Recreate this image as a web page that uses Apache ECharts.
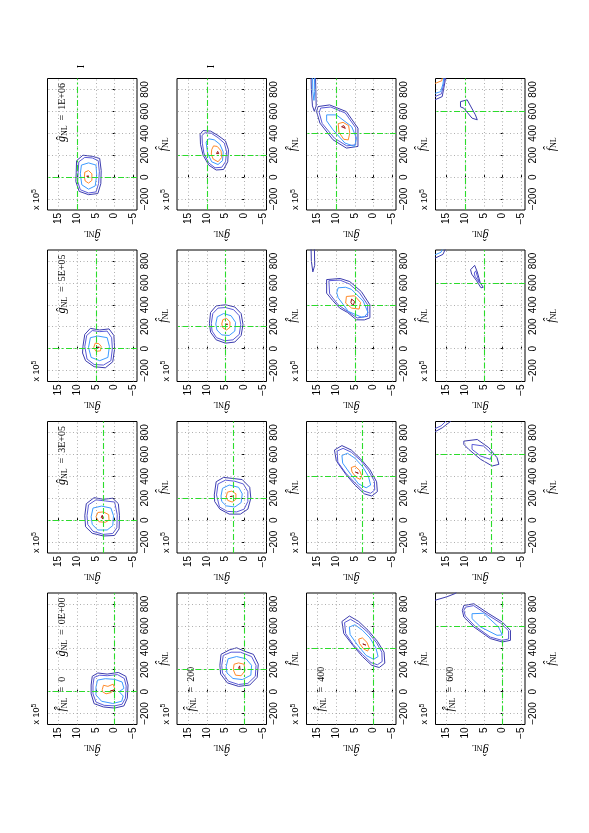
<!DOCTYPE html>
<html><head><meta charset="utf-8">
<script src="https://cdn.jsdelivr.net/npm/echarts@6/dist/echarts.min.js"></script>
<style>html,body{margin:0;padding:0;background:#fff}#c{width:589px;height:833px}</style>
</head><body><div id="c"></div>
<script>
// ---- data ----
const fTrue = [0, 200, 400, 600];          // true f_NL per column
const gTrue = [0, 3, 5, 10];               // true g_NL (x 10^5)
const gText = ['0E+00', '3E+05', '5E+05', '1E+06'];
const gTicks = [-5, 0, 5, 10, 15];
const fTicks = [-200, 0, 200, 400, 600, 800];

// contour polylines: [level, [[g(x1e5), f], ...], open?]
const F0_G0 = [
  [0, [[6.3,60],[6.0,140],[4.5,170],[2,160],[-1,175],[-3,140],[-3.6,60],[-3.4,-60],[-2.5,-130],[0,-150],[3,-140],[5.5,-110],[6.3,-20]]],
  [1, [[5.8,60],[5.5,130],[4,150],[2,145],[-0.8,155],[-2.6,120],[-3.1,50],[-2.9,-60],[-2,-115],[0,-130],[2.8,-125],[5,-95],[5.8,-20]]],
  [2, [[5,40],[4.6,105],[2.5,118],[0,112],[-2,88],[-2.5,30],[-1.2,0],[-2.3,-40],[-1.9,-88],[0.5,-108],[3.5,-88],[5,-30]]],
  [3, [[3.3,20],[3,58],[1.8,48],[0.4,68],[0,30],[0.9,-8],[0.5,-25],[2.3,-20],[3.3,0]]],
  [4, [[1.1,8],[0.8,22],[0.3,12],[0.6,-4]]]
];
const F0_G3 = [
  [0, [[8,40],[7.6,150],[5.5,205],[3,190],[0.5,200],[-1,150],[-1.3,40],[-1.2,-80],[0,-140],[3,-145],[6,-120],[7.8,-60]]],
  [1, [[7.4,40],[7,140],[5,185],[2.5,175],[0,165],[-0.7,50],[-0.6,-70],[0.5,-122],[3,-130],[5.8,-102],[7.2,-40]]],
  [2, [[6.3,30],[5.8,110],[3.5,128],[1,110],[0.3,40],[0.5,-50],[2,-90],[4.5,-90],[6,-40]]],
  [3, [[5,30],[4.5,70],[3,75],[1.6,50],[1.5,0],[2.5,-20],[4.2,-15]]],
  [4, [[3.6,25],[3.3,45],[2.8,30],[3.1,10]]]
];
const F0_G5 = [
  [0, [[8.5,20],[8,130],[6.5,185],[4,170],[1.5,180],[0.2,120],[0,0],[0.5,-120],[2.5,-175],[5.5,-165],[7.8,-110],[8.6,-40]]],
  [1, [[8,20],[7.5,120],[6,165],[4,155],[2,160],[0.8,100],[0.6,0],[1,-110],[3,-150],[5.5,-145],[7.4,-95]]],
  [2, [[7,10],[6.5,100],[4.5,115],[2,100],[1.4,20],[1.8,-80],[4,-110],[6.3,-80]]],
  [3, [[5.6,10],[5.2,50],[4.2,45],[3.6,20],[3.8,-20],[5,-25]]],
  [4, [[4.7,12],[4.4,25],[4.1,12],[4.4,2]]]
];
const F0_G10 = [
  [0, [[10.3,40],[10.2,150],[8.5,200],[6,190],[4,170],[3.6,60],[3.7,-60],[4.5,-150],[7,-160],[9.5,-130],[10.4,-40]]],
  [1, [[9.8,40],[9.6,140],[8,180],[6,175],[4.4,150],[4.1,50],[4.3,-60],[5,-135],[7,-145],[9.2,-115],[9.9,-40]]],
  [2, [[9.2,30],[8.9,110],[7,130],[5,110],[4.8,20],[5.2,-80],[7,-110],[8.8,-70]]],
  [3, [[8.1,0],[8,45],[7,60],[6.1,30],[6.1,-30],[7,-55],[7.9,-35]]],
  [4, [[7.5,8],[7.2,25],[6.9,8],[7.2,-10]]]
];
const F200_G0 = [
  [0, [[6.5,240],[6.2,340],[4,380],[2,400],[0,370],[-2.5,340],[-3.8,250],[-3.5,130],[-1.5,60],[1.5,48],[4.5,80],[6.3,160]]],
  [1, [[6,240],[5.6,330],[3.5,360],[1,360],[-2,320],[-3.2,240],[-3,140],[-1,75],[1.5,65],[4.2,95],[5.8,170]]],
  [2, [[4.8,230],[4.3,300],[2,320],[-0.5,300],[-2,240],[-1.8,150],[0.5,110],[3,120],[4.6,170]]],
  [3, [[2.9,200],[2.7,250],[1.5,262],[0,250],[-0.2,190],[0.8,145],[2.3,150]]],
  [4, [[1.5,215],[1.2,235],[0.7,218],[1.1,200]]]
];
const F200_G3 = [
  [0, [[8,230],[7.5,350],[5.5,390],[3,380],[0.5,370],[-1.5,300],[-1.8,200],[-1,100],[1,55],[4,55],[6.5,100],[7.9,170]]],
  [1, [[7.4,230],[7,330],[5,365],[2.5,355],[0.2,330],[-1,260],[-1,170],[0,100],[2,75],[4.5,80],[6.6,120]]],
  [2, [[6.2,220],[5.8,290],[4,320],[1.5,300],[0.5,240],[0.8,160],[2.5,120],[4.8,130],[6,170]]],
  [3, [[4.8,210],[4.5,255],[3.3,265],[2.2,240],[2.2,190],[3.2,165],[4.4,180]]],
  [4, [[3.8,215],[3.5,232],[3.1,218],[3.4,200]]]
];
const F200_G5 = [
  [0, [[9.3,230],[9,330],[7.5,390],[5,400],[2.5,380],[0.8,320],[0.3,220],[0.8,120],[2.5,60],[5,50],[7.5,80],[9,150]]],
  [1, [[8.8,230],[8.4,320],[7,370],[5,375],[2.8,355],[1.3,300],[0.9,220],[1.3,130],[3,80],[5.2,72],[7.4,100],[8.6,160]]],
  [2, [[7.6,225],[7.2,290],[5.5,320],[3.5,300],[2.3,240],[2.5,160],[4,120],[6,125],[7.3,170]]],
  [3, [[6,225],[5.7,265],[4.7,275],[3.8,245],[3.8,195],[4.7,170],[5.7,190]]],
  [4, [[5.1,222],[4.8,238],[4.4,222],[4.7,205]]]
];
const F200_G10 = [
  [0, [[11.8,390],[11,425],[9,420],[7,380],[5,330],[4.2,250],[4.4,140],[5.5,70],[7.5,65],[9.5,110],[11,200],[11.7,300]]],
  [1, [[11.3,380],[10.5,405],[8.8,400],[7,360],[5.3,310],[4.7,230],[5,140],[6,90],[7.8,85],[9.5,130],[10.8,220],[11.2,310]]],
  [2, [[10.2,320],[9.5,350],[8,340],[6.5,300],[5.6,230],[5.8,150],[7,115],[8.7,140],[9.8,220]]],
  [3, [[8.7,250],[8.2,285],[7.2,280],[6.2,240],[6,180],[7,140],[8.3,165],[8.8,210]]],
  [4, [[7.4,215],[7.1,235],[6.8,215],[7.1,198]]]
];
const F400_G0 = [
  [0, [[8.5,640],[6.5,690],[4,640],[1.5,560],[-1,460],[-2.8,360],[-3,260],[-1.5,220],[0.5,240],[3,320],[5.5,420],[8,530]]],
  [1, [[7.8,630],[6.2,660],[4,615],[1.5,540],[-0.7,450],[-2.2,360],[-2.3,275],[-1,245],[0.7,265],[3,340],[5.5,430],[7.5,530]]],
  [2, [[6.5,590],[5,610],[3,560],[1,490],[-0.6,400],[-1.2,320],[0,295],[2,330],[4.2,420],[6.3,520]]],
  [3, [[4,480],[3,490],[1.8,450],[1.2,400],[1.6,370],[2.7,390],[3.8,440]]],
  [4, [[2.9,435],[2.5,445],[2.1,425],[2.5,410]]]
];
const F400_G3 = [
  [0, [[10.5,640],[8.5,680],[6,640],[3.5,560],[1,460],[-0.8,350],[-1,260],[0.5,220],[2.5,240],[5,320],[7.5,420],[10,540]]],
  [1, [[9.8,630],[8.2,655],[6,620],[3.5,545],[1.4,455],[-0.2,355],[-0.3,275],[0.8,245],[2.6,265],[5,340],[7.5,430],[9.6,530]]],
  [2, [[8.5,590],[7,610],[5,565],[3,490],[1.4,400],[0.8,320],[2,295],[4,330],[6.2,420],[8.3,520]]],
  [3, [[6,480],[5,492],[3.8,455],[3.2,405],[3.6,372],[4.7,390],[5.8,440]]],
  [4, [[4.9,438],[4.5,448],[4.1,428],[4.5,412]]]
];
const F400_G5 = [
  [0, [[12.6,630],[12.1,648],[9,640],[6.4,612],[3.3,521],[1.0,400],[1.0,281],[2.5,262],[4.6,263],[7,330],[9.1,370],[11,440],[12.6,506]]],
  [1, [[12,620],[9,625],[6.5,590],[3.8,510],[1.6,400],[1.6,295],[4.4,280],[7,340],[9.5,400],[11.8,500]]],
  [2, [[9.5,555],[7.5,560],[5.9,540],[2.8,434],[1.5,329],[2.5,290],[3.3,288],[6.8,340],[9.5,464],[9.9,510]]],
  [3, [[7.3,476],[5.1,482],[3.5,421],[3.9,361],[5.9,370],[7.5,415]]],
  [4, [[5.9,452],[5.1,430],[5.5,391],[6.1,421]]],
  [0, [[16.8,950],[16.7,800],[16.3,700],[15.9,690],[15.8,760],[15.9,950]], true]
];
const F400_G10 = [
  [0, [[14.9,644],[11.8,659],[7.3,598],[4.2,447],[4.2,280],[7.3,265],[10.9,341],[14.4,493],[15.3,598]]],
  [1, [[14.2,630],[11.5,640],[7.6,585],[4.8,450],[4.8,295],[7.2,285],[10.5,355],[13.8,490],[14.6,590]]],
  [2, [[12.6,568],[10,568],[5.9,462],[4.6,356],[5.1,280],[7.7,311],[10.9,432],[12.6,514]]],
  [3, [[9.5,488],[8.2,500],[6.7,470],[6.4,400],[6.8,340],[8,345],[9.3,410]]],
  [4, [[8.6,460],[8,470],[7.6,445],[8.1,430]]],
  [0, [[16.8,950],[16.7,800],[16.4,650],[15.9,600],[15.4,650],[15.5,800],[15.6,950]], true],
  [2, [[16.4,950],[16.3,780],[16.0,700],[15.8,780],[15.9,950]], true]
];
const F600_G0 = [
  [0, [[10.4,786],[7.7,802],[3.7,711],[0.1,635],[-2.1,559],[-2.1,468],[0.1,453],[3.3,484],[7.7,590],[10.4,681],[10.8,741]]],
  [1, [[10,770],[7.8,785],[4,700],[0.5,625],[-1.6,555],[-1.6,480],[0.2,468],[3.3,498],[7.5,600],[10,690],[10.4,740]]],
  [2, [[8.2,711],[5.1,715],[1.1,590],[0.1,517],[1.5,514],[5.9,590],[8.2,666]]],
  [0, [[18.5,830],[14.9,866],[12.6,897],[11.8,950]], true]
];
const F600_G3 = [
  [0, [[10.4,721],[6.8,736],[3.7,661],[1.5,570],[1.0,509],[2.8,494],[5.9,555],[9.1,646],[10.4,691]]],
  [1, [[8.2,691],[5.1,676],[2.8,600],[3.3,555],[5.9,585],[8.2,646]]],
  [0, [[18.5,800],[16.2,842],[14,900],[13.5,950]], true],
  [1, [[18.5,830],[16.5,860],[15,910],[14.8,950]], true]
];
const F600_G5 = [
  [0, [[8.6,720],[7.5,760],[6.8,700],[6,600],[5.2,560],[5.8,555],[7,620],[8.3,680]]],
  [1, [[7.6,690],[7.2,710],[6.6,640],[6.2,600],[6.6,610],[7.4,660]]],
  [0, [[18.5,820],[16,860],[14.8,950]], true],
  [2, [[18.5,850],[16.5,880],[15.6,950]], true]
];
const F600_G10 = [
  [0, [[11.3,689],[9.5,705],[7.3,568],[6.8,523],[8.2,538],[10.4,629],[11.3,641]]],
  [0, [[15.0,950],[15.4,880],[16.2,735],[18.5,700]], true],
  [1, [[15.3,950],[15.7,860],[16.4,760],[18.5,730]], true],
  [2, [[15.6,950],[16.0,850],[16.6,780],[18.5,760]], true],
  [3, [[16.0,950],[16.3,880],[18.5,850]], true]
];
// panels[fIndex][gIndex]
const panels = [
  [F0_G0, F0_G3, F0_G5, F0_G10],
  [F200_G0, F200_G3, F200_G5, F200_G10],
  [F400_G0, F400_G3, F400_G5, F400_G10],
  [F600_G0, F600_G3, F600_G5, F600_G10]
];

// ---- layout / style ----
const COL_LEFT = [47.5, 177, 306.5, 435.5];
const ROW_TOP = [78.5, 250, 421.5, 593];
const PW = 89.5, PH = 131.5;
const LEVEL_COLORS = ['#3c3cae', '#5a5ad8', '#3d9bff', '#ff8a2a', '#a01818'];
const SANS = 'Liberation Sans, Arial, sans-serif';
const SERIF = 'Liberation Serif, DejaVu Serif, serif';
const FHAT = 'f\u0302';
const GHAT = '\u011d';

const richSym = {
  m: { fontFamily: SERIF, fontStyle: 'italic', fontSize: 12, color: '#000' },
  s: { fontFamily: SERIF, fontSize: 8, color: '#000', padding: [5, 0, 0, 0] },
  t: { fontFamily: SERIF, fontSize: 10, color: '#222' }
};

const option = { animation: false, backgroundColor: '#fff', grid: [], xAxis: [], yAxis: [], series: [], graphic: [] };
const dotted = { color: '#9a9a9a', type: [1, 2.5], width: 0.8 };
const green = { color: '#2bdc2b', type: [6, 2.5, 2, 2.5], width: 1.1 };
const minusFmt = v => (v < 0 ? '\u2212' + Math.abs(v) : String(v));

let k = 0;
for (let fi = 0; fi < 4; fi++) {
  for (let ri = 0; ri < 4; ri++) {
    const gi = 3 - ri;
    const left = COL_LEFT[fi], top = ROW_TOP[ri];
    option.grid.push({ left: left, top: top, width: PW, height: PH, show: true, borderColor: '#000', borderWidth: 1, backgroundColor: 'transparent' });
    option.xAxis.push({
      gridIndex: k, type: 'value', min: -6, max: 18, inverse: true,
      axisLine: { show: false }, splitLine: { show: false },
      axisTick: { show: true, inside: true, length: 2, customValues: gTicks, lineStyle: { color: '#000' } },
      axisLabel: { customValues: gTicks, rotate: 90, margin: 3, fontSize: 10, color: '#000', fontFamily: SANS, formatter: minusFmt },
      name: '{m|' + GHAT + '}{s|NL}', nameLocation: 'middle', nameGap: 19, nameRotate: 180,
      nameTextStyle: { color: '#000', rich: richSym }
    });
    option.yAxis.push({
      gridIndex: k, type: 'value', min: -300, max: 900, position: 'right',
      axisLine: { show: false }, splitLine: { show: false },
      axisTick: { show: true, inside: true, length: 2, customValues: fTicks, lineStyle: { color: '#000' } },
      axisLabel: { customValues: fTicks, rotate: 90, margin: 3, fontSize: 10, color: '#000', fontFamily: SANS, formatter: minusFmt },
      name: '{m|' + FHAT + '}{s|NL}', nameLocation: 'middle', nameGap: 20, nameRotate: 90,
      nameTextStyle: { color: '#000', rich: richSym }
    });
    const ml = [];
    gTicks.forEach(v => ml.push({ xAxis: v, lineStyle: dotted }));
    fTicks.forEach(v => ml.push({ yAxis: v, lineStyle: dotted }));
    ml.push({ xAxis: gTrue[gi], lineStyle: green });
    ml.push({ yAxis: fTrue[fi], lineStyle: green });
    option.series.push({
      type: 'line', xAxisIndex: k, yAxisIndex: k, data: [[gTrue[gi], fTrue[fi]]], symbol: 'none',
      lineStyle: { opacity: 0 }, silent: true, z: 1,
      markLine: { silent: true, symbol: ['none', 'none'], label: { show: false }, animation: false, data: ml }
    });
    panels[fi][gi].forEach(c => {
      const pts = c[2] ? c[1] : c[1].concat([c[1][0]]);
      option.series.push({
        type: 'line', xAxisIndex: k, yAxisIndex: k, data: pts, symbol: 'none', showSymbol: false,
        clip: true, silent: true, z: 3, smooth: false,
        lineStyle: { color: LEVEL_COLORS[c[0]], width: 1 }
      });
    });
    // x 10^5 exponent label
    option.graphic.push({
      type: 'text', x: left - 4, y: top + PH, rotation: Math.PI / 2, silent: true,
      style: { text: '{a|x 10}{b|5}', align: 'left', verticalAlign: 'bottom', textAlign: 'left', textVerticalAlign: 'bottom',
        rich: { a: { fontFamily: SANS, fontSize: 9, color: '#000' }, b: { fontFamily: SANS, fontSize: 7, color: '#000', padding: [0, 0, 6, 0] } } }
    });
    if (fi === 0) {
      option.graphic.push({
        type: 'text', x: left + 14.5, y: top + 4.5, rotation: Math.PI / 2, silent: true,
        style: { text: '{m|' + GHAT + '}{s|NL}{t|  =  ' + gText[gi] + '}', align: 'right', verticalAlign: 'middle', textAlign: 'right', textVerticalAlign: 'middle', rich: richSym }
      });
    }
    if (ri === 3) {
      option.graphic.push({
        type: 'text', x: left + 14.5, y: top + PH - 13, rotation: Math.PI / 2, silent: true,
        style: { text: '{m|' + FHAT + '}{s|NL}{t|  =  ' + fTrue[fi] + '}', align: 'left', verticalAlign: 'middle', textAlign: 'left', textVerticalAlign: 'middle', rich: richSym }
      });
    }
    if (ri === 0 && fi < 2) {
      option.graphic.push({
        type: 'text', x: left + 34, y: top - 12, rotation: Math.PI / 2, silent: true,
        style: { text: 'I', fontFamily: SERIF, fontSize: 10, fill: '#000', align: 'center', verticalAlign: 'middle', textAlign: 'center', textVerticalAlign: 'middle' }
      });
    }
    k++;
  }
}
const chart = echarts.init(document.getElementById('c'), null, { renderer: 'canvas' });
chart.setOption(option);
</script></body></html>
